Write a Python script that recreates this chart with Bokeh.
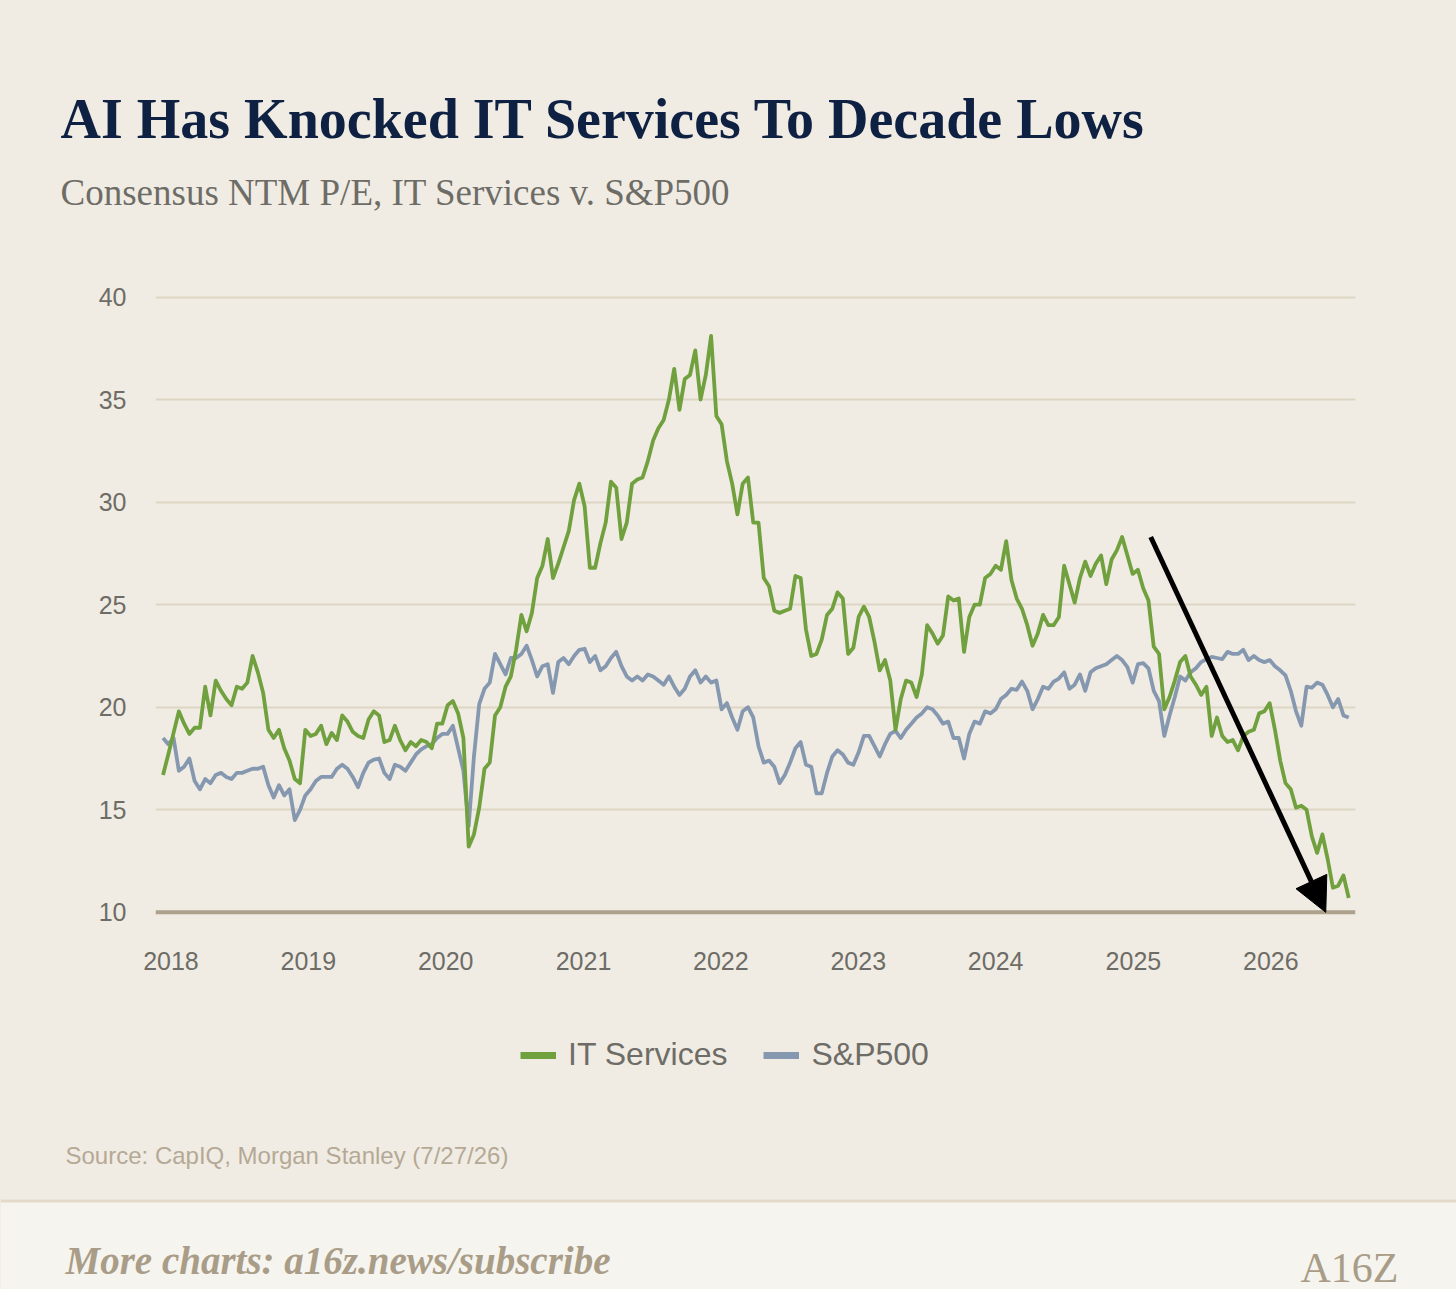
import pandas as pd

from bokeh.embed import file_html
from bokeh.layouts import column
from bokeh.models import (
    Arrow,
    BoxAnnotation,
    ColumnDataSource,
    DatetimeTickFormatter,
    FixedTicker,
    Label,
    Legend,
    LegendItem,
    NormalHead,
    Range1d,
    Span,
)
from bokeh.plotting import figure
from bokeh.resources import INLINE

# ── Data: consensus NTM P/E, bi-weekly ───────────────────────────────────────
it_services = [
    16.7, 17.7, 18.75, 19.8, 19.2, 18.7, 19.0, 19.0, 21.0, 19.6,
    21.3, 20.8, 20.4, 20.1, 21.0, 20.9, 21.2, 22.5, 21.7, 20.7,
    18.9, 18.5, 18.9, 18.0, 17.4, 16.5, 16.3, 18.9, 18.6, 18.7,
    19.1, 18.2, 18.75, 18.4, 19.6, 19.3, 18.8, 18.6, 18.5, 19.4,
    19.8, 19.6, 18.3, 18.4, 19.1, 18.4, 17.9, 18.3, 18.1, 18.4,
    18.3, 18.0, 19.2, 19.2, 20.1, 20.3, 19.7, 18.5, 13.2, 13.8,
    15.1, 17.0, 17.3, 19.6, 20.0, 21.0, 21.5, 22.8, 24.5, 23.7,
    24.6, 26.3, 26.9, 28.2, 26.3, 27.0, 27.8, 28.6, 30.1, 30.9,
    29.8, 26.8, 26.8, 28.0, 29.0, 31.0, 30.7, 28.2, 29.0, 30.9,
    31.1, 31.2, 32.0, 33.0, 33.6, 34.0, 35.0, 36.5, 34.5, 36.0,
    36.2, 37.4, 35.0, 36.2, 38.1, 34.2, 33.8, 32.0, 30.9, 29.4,
    30.9, 31.2, 29.0, 29.0, 26.3, 25.9, 24.7, 24.6, 24.7, 24.8,
    26.4, 26.3, 23.8, 22.5, 22.6, 23.3, 24.5, 24.8, 25.6, 25.3,
    22.6, 22.9, 24.4, 24.9, 24.4, 23.2, 21.8, 22.3, 21.3, 18.9,
    20.4, 21.3, 21.2, 20.5, 21.6, 24.0, 23.6, 23.1, 23.5, 25.4,
    25.2, 25.3, 22.7, 24.4, 25.0, 25.0, 26.3, 26.5, 26.9, 26.7,
    28.1, 26.2, 25.3, 24.8, 24.0, 23.0, 23.6, 24.5, 24.0, 24.0,
    24.4, 26.9, 26.0, 25.1, 26.3, 27.1, 26.4, 27.0, 27.4, 26.0,
    27.2, 27.65, 28.3, 27.4, 26.5, 26.7, 25.8, 25.2, 22.95, 22.6,
    19.9, 20.5, 21.3, 22.2, 22.5, 21.5, 21.1, 20.6, 21.0, 18.6,
    19.5, 18.6, 18.3, 18.4, 17.9, 18.6, 18.8, 18.9, 19.7, 19.8,
    20.2, 18.9, 17.4, 16.3, 16.0, 15.1, 15.2, 15.0, 13.7, 12.9,
    13.8, 12.6, 11.2, 11.3, 11.8, 10.7,
]

sp500 = [
    18.5, 18.2, 18.5, 16.9, 17.1, 17.5, 16.4, 16.0, 16.5, 16.3,
    16.7, 16.8, 16.6, 16.5, 16.8, 16.8, 16.9, 17.0, 17.0, 17.1,
    16.2, 15.6, 16.2, 15.7, 16.0, 14.5, 15.0, 15.7, 16.0, 16.4,
    16.6, 16.6, 16.6, 17.0, 17.2, 17.0, 16.6, 16.1, 16.8, 17.3,
    17.45, 17.5, 16.8, 16.5, 17.2, 17.1, 16.9, 17.3, 17.7, 17.95,
    18.1, 18.2, 18.5, 18.7, 18.7, 19.1, 18.0, 16.9, 14.2, 17.6,
    20.15, 20.9, 21.2, 22.6, 22.1, 21.6, 22.4, 22.4, 22.6, 23.0,
    22.3, 21.5, 22.0, 22.1, 20.7, 22.2, 22.4, 22.1, 22.5, 22.8,
    22.85, 22.2, 22.5, 21.8, 22.0, 22.4, 22.7, 22.0, 21.5, 21.3,
    21.5, 21.3, 21.6, 21.5, 21.3, 21.1, 21.5, 21.0, 20.6, 20.9,
    21.5, 21.8, 21.2, 21.5, 21.2, 21.3, 19.9, 20.2, 19.5, 18.9,
    19.8, 20.0, 19.5, 18.1, 17.3, 17.4, 17.1, 16.3, 16.7, 17.3,
    18.0, 18.3, 17.2, 17.1, 15.8, 15.8, 16.8, 17.6, 17.9, 17.7,
    17.3, 17.2, 17.8, 18.6, 18.6, 18.1, 17.6, 18.2, 18.7, 18.85,
    18.5, 18.9, 19.2, 19.5, 19.7, 20.0, 19.9, 19.6, 19.2, 19.3,
    18.5, 18.5, 17.5, 18.7, 19.3, 19.2, 19.8, 19.7, 19.9, 20.4,
    20.6, 20.9, 20.85, 21.25, 20.8, 19.9, 20.4, 21.0, 20.9, 21.25,
    21.4, 21.7, 20.9, 21.1, 21.6, 20.8, 21.7, 21.9, 22.0, 22.1,
    22.3, 22.5, 22.3, 21.95, 21.2, 22.1, 22.15, 21.9, 20.8, 20.3,
    18.6, 19.6, 20.5, 21.5, 21.3, 21.7, 21.9, 22.2, 22.35, 22.45,
    22.4, 22.35, 22.7, 22.6, 22.6, 22.8, 22.3, 22.5, 22.3, 22.2,
    22.3, 22.0, 21.8, 21.55, 20.8, 19.8, 19.1, 21.0, 20.95, 21.2,
    21.1, 20.6, 20.0, 20.4, 19.6, 19.5,
]

last_date = "2026-07-27"
years = list(range(2018, 2027))
y_ticks = [10, 15, 20, 25, 30, 35, 40]

arrow_from = ("2025-02-16", 28.3)
arrow_to = ("2026-05-27", 10.0)

# ── Colors ────────────────────────────────────────────────────────────────────
BG = "#F0ECE4"
FOOTER_BG = "#F6F4EF"
GREEN = "#71A03E"
BLUE = "#8698AF"
NAVY = "#0F2142"
GREY_TEXT = "#6E6C66"
TAN = "#A99D87"
GRID = "#DED6C4"
BASE = "#ADA18C"

W = 1456


def blank_figure(height):
    """Axis-less figure whose frame covers the whole canvas (pixel coords)."""
    f = figure(
        width=W, height=height,
        x_range=Range1d(0, W), y_range=Range1d(0, height),
        output_backend="svg", toolbar_location=None,
        min_border=0, background_fill_color=None, border_fill_color=BG,
        outline_line_color=None, frame_align=False,
    )
    f.axis.visible = False
    f.grid.visible = False
    return f


def add_text(f, x, y, text, font, size, color, style="normal", align="left"):
    f.add_layout(Label(
        x=x, y=y, text=text,
        text_font=font, text_font_size=size, text_color=color,
        text_font_style=style, text_align=align, text_baseline="alphabetic",
    ))


# ── Header ────────────────────────────────────────────────────────────────────
header = blank_figure(248)
add_text(header, 60, 130, "AI Has Knocked IT Services To Decade Lows",
         "Liberation Serif", "56px", NAVY, "bold")
add_text(header, 60, 56, "Consensus NTM P/E, IT Services v. S&P500",
         "Liberation Serif", "37px", GREY_TEXT)

# ── Chart ─────────────────────────────────────────────────────────────────────
dates = pd.date_range(end=last_date, periods=len(it_services), freq="14D")
source = ColumnDataSource(dict(date=dates, it=it_services, sp=sp500))

p = figure(
    width=W, height=752,
    x_axis_type="datetime",
    x_range=Range1d(pd.Timestamp("2017-11-21"), pd.Timestamp("2026-08-14")),
    y_range=Range1d(9.7, 41),
    output_backend="svg",
    toolbar_location=None,
    min_border_left=155, min_border_right=101,
    min_border_top=28, min_border_bottom=82,
    background_fill_color=None, border_fill_color=BG,
    outline_line_color=None, frame_align=False,
)

year_ms = [pd.Timestamp(f"{y}-01-01").value / 1e6 for y in years]
p.xaxis.ticker = FixedTicker(ticks=year_ms)
p.xaxis.formatter = DatetimeTickFormatter(
    years="%Y", months="%Y", days="%Y", hours="%Y", minutes="%Y"
)
p.yaxis.ticker = FixedTicker(ticks=y_ticks)
for ax in (p.xaxis, p.yaxis):
    ax.axis_line_color = None
    ax.major_tick_line_color = None
    ax.minor_tick_line_color = None
    ax.major_label_text_font = "Liberation Sans"
    ax.major_label_text_font_size = "25px"
    ax.major_label_text_color = GREY_TEXT
p.xaxis.major_label_standoff = 27
p.yaxis.major_label_standoff = 23

p.xgrid.visible = False
p.ygrid.ticker = FixedTicker(ticks=y_ticks[1:])
p.ygrid.grid_line_color = GRID
p.ygrid.grid_line_width = 2

p.add_layout(Span(location=10, dimension="width", line_color=BASE, line_width=4))

p.line(x="date", y="sp", source=source, line_color=BLUE, line_width=3.8,
       line_join="round")
p.line(x="date", y="it", source=source, line_color=GREEN, line_width=3.8,
       line_join="round")

p.add_layout(Arrow(
    x_start=pd.Timestamp(arrow_from[0]).value / 1e6, y_start=arrow_from[1],
    x_end=pd.Timestamp(arrow_to[0]).value / 1e6, y_end=arrow_to[1],
    line_color="black", line_width=5,
    end=NormalHead(size=34, fill_color="black", line_color="black"),
))

# ── Footer: legend, source, subscribe band ────────────────────────────────────
footer = blank_figure(289)

# legend proxies: a single NaN point, so nothing is drawn but the swatch
proxy = ColumnDataSource(dict(x=[float("nan")], y=[float("nan")]))
sw_it = footer.line(x="x", y="y", source=proxy, line_color=GREEN, line_width=7)
sw_sp = footer.line(x="x", y="y", source=proxy, line_color=BLUE, line_width=7)
footer.add_layout(Legend(
    items=[LegendItem(label="IT Services", renderers=[sw_it]),
           LegendItem(label="S&P500", renderers=[sw_sp])],
    orientation="horizontal",
    location=(520, 216),
    label_text_font="Liberation Sans", label_text_font_size="32px",
    label_text_color=GREY_TEXT,
    glyph_width=36, glyph_height=34, label_standoff=12, spacing=36,
    padding=0, margin=0,
    background_fill_alpha=0, border_line_color=None,
), "center")

add_text(footer, 65, 134, "Source: CapIQ, Morgan Stanley (7/27/26)",
         "Liberation Sans", "24px", "#B5A995")

footer.add_layout(BoxAnnotation(bottom=-5, top=90, fill_color=FOOTER_BG,
                                fill_alpha=1, line_color=None))
footer.add_layout(BoxAnnotation(bottom=87, top=90, fill_color="#E3DAC7",
                                fill_alpha=1, line_color=None))
add_text(footer, 65, 29, "More charts: a16z.news/subscribe",
         "Liberation Serif", "39px", TAN, "bold italic")
add_text(footer, 1398, 22, "A16Z", "Liberation Serif", "42px", TAN, align="right")

layout = column(header, p, footer, spacing=0, styles={"background-color": BG})

open("out.html", "w").write(file_html(layout, INLINE))
